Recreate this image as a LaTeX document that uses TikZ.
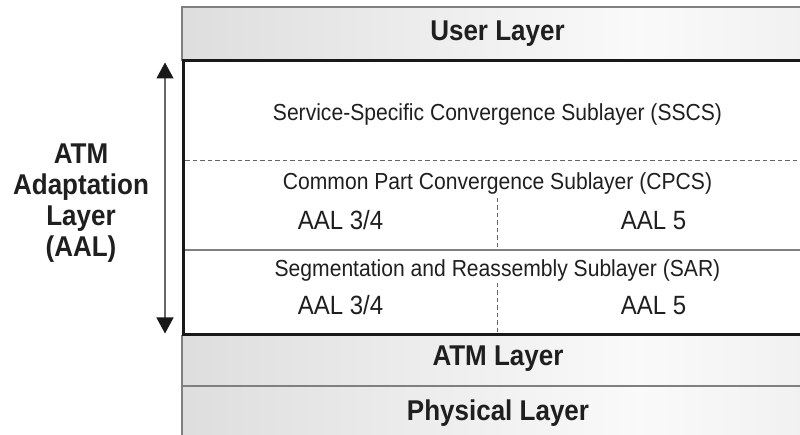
\documentclass[tikz,border=0pt]{standalone}
\usepackage{graphicx}
\usepackage{fontspec}
\setmainfont{Liberation Sans}
\usetikzlibrary{arrows.meta}
\newcommand{\talltxt}[1]{\scalebox{1}[1.1]{#1}}
\pgfdeclarehorizontalshading{layershade}{100bp}{color(0bp)=(black!17); color(25bp)=(black!13); color(62bp)=(black!2); color(100bp)=(black!12)}
\tikzset{
  layerbox/.style={shading=layershade, draw=none},
  edgeline/.style={draw=black!50, line width=1.4pt},
  thickline/.style={draw=black!90, line width=3pt},
  sepdash/.style={draw=black!60, line width=0.9pt, dash pattern=on 4.5pt off 3pt},
  sepsolid/.style={draw=black!50, line width=1.3pt},
  titletext/.style={anchor=base, font=\fontsize{26}{31}\selectfont\bfseries, text=black!88, inner sep=0pt},
  subtext/.style={anchor=base, font=\fontsize{21.1}{25}\selectfont, text=black!88, inner sep=0pt},
  aaltext/.style={anchor=base, font=\fontsize{24}{28}\selectfont, text=black!88, inner sep=0pt},
  sidetext/.style={anchor=base, font=\fontsize{26}{31}\selectfont\bfseries, text=black!88, inner sep=0pt},
  bidir/.style={draw=black!60, line width=1.3pt, {Triangle[width=17pt,length=16pt,fill=black!90,color=black!90]}-{Triangle[width=17pt,length=16pt,fill=black!90,color=black!90]}}
}
\begin{document}
\begin{tikzpicture}[x=1pt,y=-1pt]
\useasboundingbox (0,0) rectangle (800,435);
\fill[white] (0,0) rectangle (800,435);
% User layer
\path[layerbox] (182,7) rectangle (800,61);
\draw[edgeline] (800,7) -- (182,7) -- (182,61);
% AAL box
\fill[white] (183.5,61) rectangle (800,335);
\draw[sepdash] (185,160) -- (800,160);
\draw[sepsolid] (185,250) -- (800,250);
\draw[sepdash] (497.5,198) -- (497.5,250);
\draw[sepdash] (497.5,283) -- (497.5,334);
% ATM & Physical layers
\path[layerbox] (182,335) rectangle (800,386);
\path[layerbox] (182,386) rectangle (800,435);
\draw[edgeline] (182,335) -- (182,435);
\draw[sepsolid] (182,386) -- (800,386);
\draw[thickline] (800,61) -- (183.5,61) -- (183.5,335) -- (800,335);
% texts
\node[titletext] (user) at (497.5,41) {\talltxt{User Layer}};
\node[subtext] (sscs) at (497.5,121) {\talltxt{Service-Specific Convergence Sublayer (SSCS)}};
\node[subtext] (cpcs) at (497.5,190) {\talltxt{Common Part Convergence Sublayer (CPCS)}};
\node[aaltext] (c34) at (340.5,230) {\talltxt{AAL 3/4}};
\node[aaltext] (c5) at (653.5,230) {\talltxt{AAL 5}};
\node[subtext] (sar) at (497.5,277) {\talltxt{Segmentation and Reassembly Sublayer (SAR)}};
\node[aaltext] (s34) at (340.5,315) {\talltxt{AAL 3/4}};
\node[aaltext] (s5) at (653.5,315) {\talltxt{AAL 5}};
\node[titletext] (atm) at (498,366) {\talltxt{ATM Layer}};
\node[titletext] (phy) at (498,420.5) {\talltxt{Physical Layer}};
% side label
\node[sidetext] (side1) at (81,164) {\talltxt{ATM}};
\node[sidetext] (side2) at (81,195) {\talltxt{Adaptation}};
\node[sidetext] (side3) at (81,226) {\talltxt{Layer}};
\node[sidetext] (side4) at (81,257) {\talltxt{(AAL)}};
% arrow
\coordinate (atop) at (165,62.5);
\coordinate (abot) at (165,333.5);
\draw[bidir] (atop) -- (abot);
\end{tikzpicture}
\end{document}
